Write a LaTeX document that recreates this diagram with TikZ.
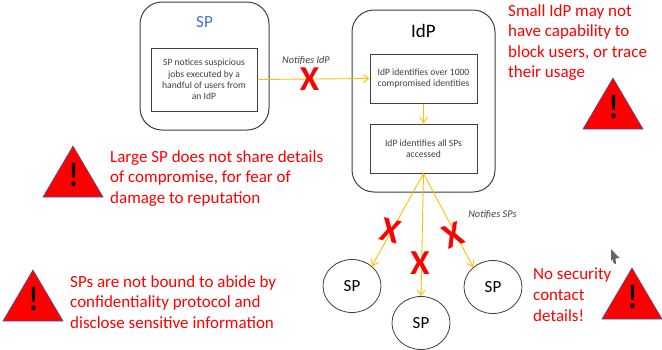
\documentclass[tikz,border=0pt]{standalone}
\usepackage{fontspec}
\setmainfont{Carlito}
\usetikzlibrary{arrows.meta,shapes.geometric}
\definecolor{warnred}{HTML}{FF0000}
\definecolor{flow}{HTML}{FFC000}
\definecolor{ink}{HTML}{404040}
\definecolor{spblue}{HTML}{4472C4}
\definecolor{triedge}{HTML}{3F5A9A}
\tikzset{
  outerbox/.style={draw=ink,line width=1pt,rounded corners=22pt,inner sep=0pt},
  innerbox/.style={draw=ink,line width=1pt,align=center,text=ink,font=\fontsize{9.6}{11.4}\selectfont,inner sep=0pt},
  spnode/.style={draw=ink,line width=.8pt,ellipse,minimum width=58pt,minimum height=53pt,inner sep=0pt,font=\fontsize{17}{20}\selectfont,text=black},
  flowline/.style={draw=flow,line width=.9pt,-{Straight Barb[length=5.5pt,width=8pt]}},
  note/.style={text=warnred,font=\fontsize{17}{20.6}\selectfont,align=left,anchor=north west,inner sep=0pt},
  label/.style={font=\itshape\fontsize{10.3}{11}\selectfont,text=ink,inner sep=0pt},
  cross/.style={text=warnred,font=\bfseries\fontsize{35}{35}\selectfont,inner sep=0pt},
  warntri/.style={fill=warnred,draw=triedge,line width=.6pt,line join=miter},
  bang/.style={font=\bfseries\fontsize{34}{34}\selectfont,text=black,inner sep=0pt,xscale=.85}
}
\newcommand{\warnsign}[3]{%
  \path[warntri] (#1,#2) -- (#1+30,#2+51) -- (#1-30,#2+51) -- cycle;
  \node[bang] (#3) at (#1+.5,#2+29) {!};
}
\begin{document}
\begin{tikzpicture}[x=1pt,y=-1pt]
\useasboundingbox[fill=white] (0,0) rectangle (662,349);

% outer boxes
\node[outerbox,minimum width=129pt,minimum height=128pt] (spouter) at (204.5,66) {};
\node[outerbox,minimum width=143pt,minimum height=182pt] (idpouter) at (423.5,101) {};
\node[font=\fontsize{17}{20}\selectfont,text=spblue] (sptitle) at (204.5,22.5) {SP};
\node[font=\fontsize{19}{22}\selectfont,text=black] (idptitle) at (423.5,31) {IdP};

% inner boxes
\node[innerbox,minimum width=106pt,minimum height=63pt] (spbox) at (204,79.5) {SP notices suspicious\\jobs executed by a\\handful of users from\\an IdP};
\node[innerbox,minimum width=107pt,minimum height=49pt] (idpa) at (423.5,78.5) {IdP identifies over 1000\\compromised identities};
\node[innerbox,minimum width=107pt,minimum height=49pt] (idpb) at (423.5,148.5) {IdP identifies all SPs\\accessed};

% SP circles
\node[spnode] (spa) at (352,286) {SP};
\node[spnode] (spb) at (421,323) {SP};
\node[spnode] (spc) at (493,287) {SP};

% connectors
\draw[flowline] (spbox.east) -- (idpa.west);
\draw[flowline] (idpa.south) -- (idpb.north);
\draw[flowline] (idpb.south) -- (spa.45);
\draw[flowline] (idpb.south) -- (spb.north);
\draw[flowline] (idpb.south) -- (spc.135);

% labels
\node[label] (notifyidp) at (306,60.5) {Notifies IdP};
\node[label] (notifysps) at (492.5,214.5) {Notifies SPs};

% crosses
\node[cross] (xa) at (309.5,79) {X};
\node[cross,rotate=-14] (xb) at (391,231) {X};
\node[cross] (xc) at (420,263) {X};
\node[cross,rotate=22] (xd) at (453,235) {X};

% warnings
\warnsign{73}{146}{banga}
\warnsign{33}{270}{bangb}
\warnsign{613}{78}{bangc}
\warnsign{632}{268}{bangd}

% notes
\node[note] (notea) at (110,150) {Large SP does not share details\\of compromise, for fear of\\damage to reputation};
\node[note] (noteb) at (70,275) {SPs are not bound to abide by\\confidentiality protocol and\\disclose sensitive information};
\node[note] (notec) at (508,4) {Small IdP may not\\have capability to\\block users, or trace\\their usage};
\node[note] (noted) at (533,268) {No security\\contact\\details!};

% cursor
\path[fill=black!60] (611,249) -- (619.5,258) -- (615.5,258.5) -- (616,264) -- (613.5,263) -- (612.5,259) -- (611,261) -- cycle;
\end{tikzpicture}
\end{document}
